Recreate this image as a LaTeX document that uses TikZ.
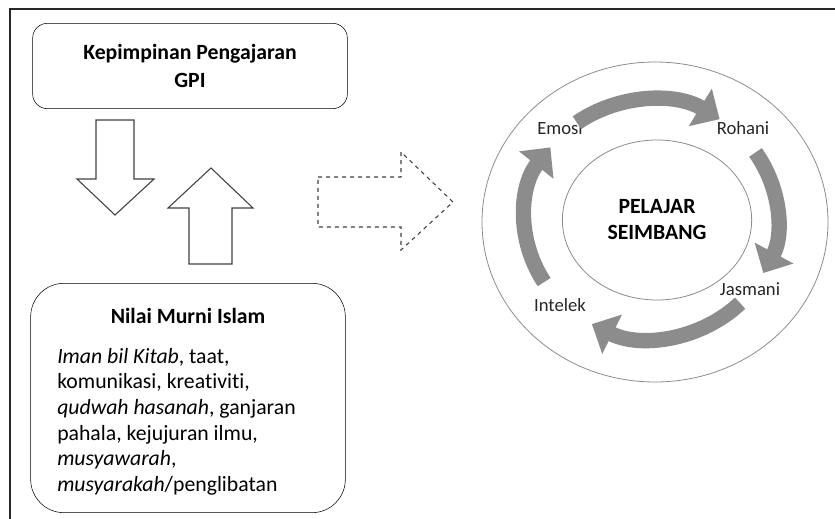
\documentclass[tikz,border=0pt]{standalone}
\usepackage{fontspec}
\setmainfont{Carlito}[Ligatures=NoCommon]
\usetikzlibrary{shapes,arrows.meta,positioning}

\begin{document}
\begin{tikzpicture}[x=0.75pt,y=-0.75pt,font=\fontsize{16.3}{19.2}\selectfont]

    % Define node styles
    \tikzstyle{block} = [draw, rounded corners=11pt, minimum width=236pt, minimum height=64pt, align=center, font=\fontsize{16.3}{21.5}\selectfont\bfseries]
    \tikzstyle{valuebox} = [draw, rounded corners=25pt, minimum width=236pt, minimum height=172pt]
    \tikzstyle{core} = [draw=black!45, line width=0.6pt, ellipse, minimum width=142pt, minimum height=120pt, align=center, font=\fontsize{16.3}{19.5}\selectfont\bfseries]
    \tikzstyle{aspect} = [text=black!85, inner sep=0pt, font=\fontsize{14}{16}\selectfont]
    \tikzstyle{hollow} = [draw=black!75, line width=0.8pt, line join=miter]
    \tikzstyle{cyc} = [line width=11.5pt, draw=black!45, -{Triangle[width=32pt,length=17pt]}]

    \clip (0,0) rectangle (835,518);
    \draw [line width=1.5pt, black!85] (10,9) rectangle (860,540);

    % Draw nodes
    \node [block] (lead) at (190,66) {Kepimpinan Pengajaran\\GPI};
    \node [valuebox] (nilai) at (188,398) {};
    \node [font=\fontsize{16.3}{19.2}\selectfont\bfseries] (nilaititle) at (188,316) {Nilai Murni Islam};
    \node [anchor=north west, align=left, inner sep=0pt] (nilaitext) at (57,348) {\textit{Iman bil Kitab}, taat,\\ komunikasi, kreativiti,\\ \textit{qudwah hasanah}, ganjaran\\ pahala, kejujuran ilmu,\\ \textit{musyawarah},\\ \textit{musyarakah}/penglibatan};

    \coordinate (hub) at (651,219);
    \draw [black!45, line width=0.6pt] (655,222) ellipse [x radius=173, y radius=160];
    \node [core] (pelajar) at (657,220) {PELAJAR\\SEIMBANG};

    \node [aspect] (emosi) at (560,128) {Emosi};
    \node [aspect] (rohani) at (743,128) {Rohani};
    \node [aspect] (jasmani) at (750,289) {Jasmani};
    \node [aspect] (intelek) at (560,305) {Intelek};

    % Draw arrows
    \draw [hollow] (96,120) -- (134,120) -- (134,179) -- (154,179) -- (115,215) -- (77,179) -- (96,179) -- cycle;
    \draw [hollow] (189,264) -- (189,208) -- (168,208) -- (211,168) -- (253,208) -- (232,208) -- (232,264) -- cycle;
    \draw [hollow, dashed] (318,177) -- (401,177) -- (401,152) -- (453,202) -- (401,250) -- (401,227) -- (318,227) -- cycle;

    \foreach \s/\e in {-126/-57, -34/27, 45/118, -212/-143}
        \draw [cyc] ([shift={(\s:126 and 119)}]hub) arc [start angle=\s, end angle=\e, x radius=126, y radius=119];

\end{tikzpicture}
\end{document}
